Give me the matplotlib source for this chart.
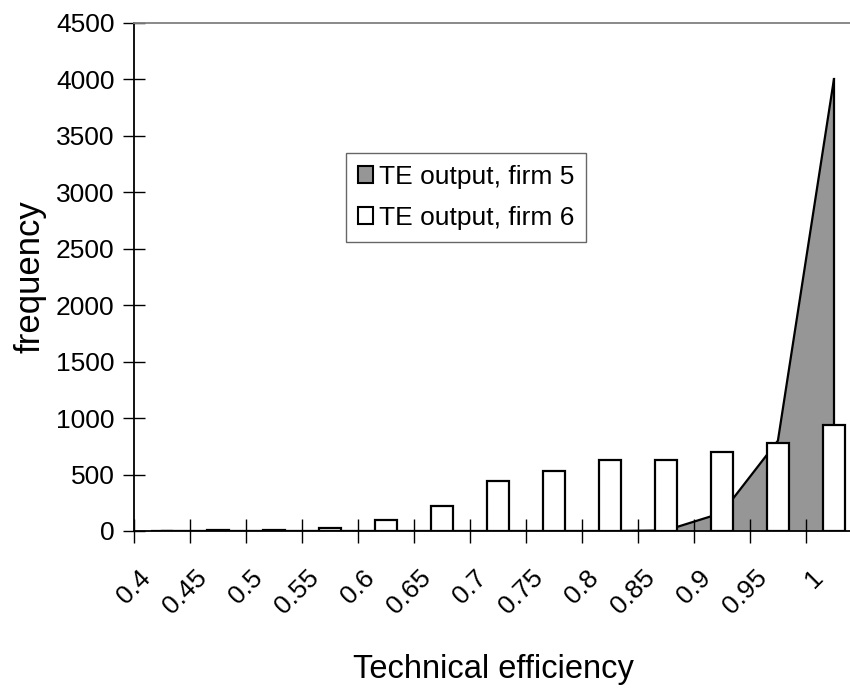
import matplotlib
matplotlib.use("Agg")
import matplotlib.pyplot as plt
import matplotlib.transforms as mtransforms
import numpy as np
from matplotlib.patches import Patch

plt.rcParams["font.family"] = ["Liberation Sans", "DejaVu Sans"]

categories = ["0.4", "0.45", "0.5", "0.55", "0.6", "0.65", "0.7",
              "0.75", "0.8", "0.85", "0.9", "0.95", "1"]
firm5 = [0, 0, 0, 0, 0, 0, 0, 0, 0, 5, 160, 800, 4000]
firm6 = [2, 5, 5, 30, 95, 220, 445, 535, 632, 632, 697, 780, 942]

fig = plt.figure(figsize=(8.5, 6.92), dpi=100)
# plot area runs past the right edge, as in the source image
ax = fig.add_axes([0.1576, 0.2327, 1.014 - 0.1576, 0.9668 - 0.2327])

x = np.arange(len(categories)) + 0.5
ax.fill_between(x, firm5, 0, facecolor="#969696", edgecolor="none", zorder=1)
ax.plot(x, firm5, color="black", lw=1.6, zorder=2)
ax.plot([x[-1], x[-1]], [0, firm5[-1]], color="black", lw=1.6, zorder=2)
ax.bar(x, firm6, width=0.4, facecolor="white", edgecolor="black", lw=1.6, zorder=3)

ax.set_xlim(0, len(categories))
ax.set_ylim(0, 4500)
ax.set_yticks(np.arange(0, 4501, 500))
ax.set_xticks(np.arange(len(categories) + 1))
ax.set_xticklabels([])
ax.set_xticks(x, minor=True)
ax.set_xticklabels(categories, minor=True, rotation=45, ha="right", va="center",
                   rotation_mode="anchor", fontsize=19)
ax.tick_params(axis="x", which="minor", length=0, pad=31)
ax.tick_params(axis="x", which="major", direction="inout", length=17, width=1)
ax.tick_params(axis="y", direction="inout", length=16, width=1, labelsize=19, pad=6)

shift = mtransforms.ScaledTranslation(-15 / 100, 0, fig.dpi_scale_trans)
for lab in ax.get_xticklabels(minor=True):
    lab.set_transform(lab.get_transform() + shift)

for s in ("left", "bottom"):
    ax.spines[s].set_color("black")
    ax.spines[s].set_linewidth(1.3)
for s in ("top", "right"):
    ax.spines[s].set_color("#808080")
    ax.spines[s].set_linewidth(1.3)

ax.set_ylabel("frequency", fontsize=25)
ax.yaxis.set_label_coords(-0.120, 0.5)
ax.set_xlabel("Technical efficiency", fontsize=23.5)
ax.xaxis.set_label_coords(0.4945, -0.242)

handles = [Patch(facecolor="#969696", edgecolor="black", lw=1.5, label="TE output, firm 5"),
           Patch(facecolor="white", edgecolor="black", lw=1.5, label="TE output, firm 6")]
leg = ax.legend(handles=handles, loc="upper left", bbox_to_anchor=(0.291, 0.744),
                fontsize=19, frameon=True, fancybox=False, handlelength=0.6,
                handleheight=0.6, handletextpad=0.2, borderpad=0.45,
                labelspacing=0.65, borderaxespad=0)
leg.get_frame().set_edgecolor("#404040")
leg.get_frame().set_linewidth(1.0)

fig.savefig("out.png", dpi=100)
